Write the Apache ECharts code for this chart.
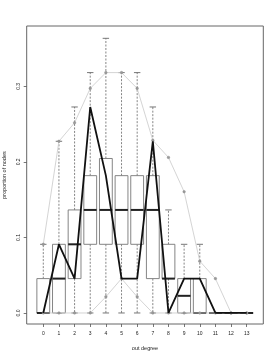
<!DOCTYPE html>
<html>
<head>
<meta charset="utf-8">
<script src="https://cdn.jsdelivr.net/npm/echarts@6/dist/echarts.min.js"></script>
<style>html,body{margin:0;padding:0;background:#fff}#c{width:277px;height:358px}</style>
</head>
<body>
<div id="c"></div>
<script>
// out degree categories
const degrees = [0, 1, 2, 3, 4, 5, 6, 7, 8, 9, 10, 11, 12, 13];
// boxplot statistics of simulated proportions
const boxLow  = [0, 0, 0, 0, 0, 0, 0, 0, 0, 0, 0, 0, 0, 0];
const boxQ1   = [0, 0, 0.0455, 0.0909, 0.0909, 0.0909, 0.0909, 0.0455, 0.0455, 0, 0, 0, 0, 0];
const boxMed  = [0, 0.0455, 0.0909, 0.1364, 0.1364, 0.1364, 0.1364, 0.1364, 0.0455, 0.0227, 0, 0, 0, 0];
const boxQ3   = [0.0455, 0.0909, 0.1364, 0.1818, 0.2045, 0.1818, 0.1818, 0.1818, 0.0909, 0.0455, 0.0455, 0, 0, 0];
const boxHigh = [0.0909, 0.2273, 0.2727, 0.3182, 0.3636, 0.3182, 0.3182, 0.2727, 0.1364, 0.0909, 0.0909, 0, 0, 0];
// grey quantile bands
const upperBand = [0.0909, 0.2273, 0.2518, 0.2973, 0.3182, 0.3182, 0.2973, 0.2286, 0.2059, 0.1605, 0.0686, 0.0455, 0, 0];
const lowerBand = [0, 0, 0, 0, 0.0214, 0.0455, 0.0214, 0, 0, 0, 0, 0, 0, 0];
// observed network
const observed = [0, 0.0909, 0.0455, 0.2727, 0.1818, 0.0455, 0.0455, 0.2273, 0, 0.0455, 0.0455, 0, 0, 0];
// tick labels
const xTicks = [0, 1, 2, 3, 4, 5, 6, 7, 8, 9, 10, 11, 12, 13];
const yTicks = [0, 0.1, 0.2, 0.3];
const yTickLabels = ['0.0', '0.1', '0.2', '0.3'];

const boxData = degrees.map((d, i) => [d, boxLow[i], boxQ1[i], boxMed[i], boxQ3[i], boxHigh[i]]);
const pair = arr => degrees.map((d, i) => [d, arr[i]]);

const chart = echarts.init(document.getElementById('c'), null, {renderer: 'canvas'});
const txt = '#222';
chart.setOption({
  animation: false,
  backgroundColor: '#fff',
  grid: {left: 26.7, top: 26, width: 236.6, height: 298, show: true, borderColor: '#666', borderWidth: 1,
    backgroundColor: 'transparent', containLabel: false, outerBoundsMode: 'none'},
  xAxis: {
    type: 'value', min: -1.06, max: 14.06, position: 'bottom',
    name: 'out degree', nameLocation: 'middle', nameGap: 21,
    nameTextStyle: {fontSize: 5.5, color: txt, fontFamily: 'Liberation Sans'},
    axisLine: {show: false, onZero: false},
    splitLine: {show: false},
    axisTick: {show: true, length: 3, customValues: xTicks, lineStyle: {color: '#555', width: 0.8}},
    axisLabel: {customValues: xTicks, fontSize: 5, color: txt, margin: 7, fontFamily: 'Liberation Sans'}
  },
  yAxis: {
    type: 'value', min: -0.0146, max: 0.3799, position: 'left',
    name: 'proportion of nodes', nameLocation: 'middle', nameGap: 16,
    nameTextStyle: {fontSize: 5.5, color: txt, fontFamily: 'Liberation Sans'},
    axisLine: {show: false, onZero: false},
    splitLine: {show: false},
    axisTick: {show: true, length: 3, customValues: yTicks, lineStyle: {color: '#555', width: 0.8}},
    axisLabel: {customValues: yTicks, rotate: 90, fontSize: 5, color: txt, margin: 6, fontFamily: 'Liberation Sans',
      formatter: v => { const k = yTicks.findIndex(t => Math.abs(t - v) < 1e-9); return k >= 0 ? yTickLabels[k] : ''; }}
  },
  series: [
    {
      type: 'custom',
      data: boxData,
      encode: {x: 0, y: [1, 2, 3, 4, 5]},
      z: 2,
      renderItem: function (params, api) {
        const d = api.value(0);
        const lo = api.coord([d, api.value(1)]);
        const q1 = api.coord([d, api.value(2)]);
        const md = api.coord([d, api.value(3)]);
        const q3 = api.coord([d, api.value(4)]);
        const hi = api.coord([d, api.value(5)]);
        const hw = api.size([0.41, 0])[0];
        const cw = hw * 0.5;
        const x = md[0];
        const wStyle = {stroke: '#777', lineWidth: 0.9, lineDash: [2, 1.5]};
        const cStyle = {stroke: '#666', lineWidth: 0.9};
        return {
          type: 'group',
          children: [
            {type: 'line', shape: {x1: x, y1: q3[1], x2: x, y2: hi[1]}, style: wStyle},
            {type: 'line', shape: {x1: x, y1: q1[1], x2: x, y2: lo[1]}, style: wStyle},
            {type: 'line', shape: {x1: x - cw, y1: hi[1], x2: x + cw, y2: hi[1]}, style: cStyle},
            {type: 'line', shape: {x1: x - cw, y1: lo[1], x2: x + cw, y2: lo[1]}, style: cStyle},
            {type: 'rect', shape: {x: x - hw, y: q3[1], width: 2 * hw, height: q1[1] - q3[1]}, style: {fill: '#fff', stroke: '#777', lineWidth: 0.9}},
            {type: 'line', shape: {x1: x - hw, y1: md[1], x2: x + hw, y2: md[1]}, style: {stroke: '#222', lineWidth: 2}}
          ]
        };
      }
    },
    {
      type: 'line', data: pair(upperBand), z: 3,
      lineStyle: {color: '#cfcfcf', width: 0.9},
      symbol: 'circle', symbolSize: 2.6, itemStyle: {color: '#999', borderColor: '#888', borderWidth: 0.4}
    },
    {
      type: 'line', data: pair(lowerBand), z: 3,
      lineStyle: {color: '#cfcfcf', width: 0.9},
      symbol: 'circle', symbolSize: 2.6, itemStyle: {color: '#999', borderColor: '#888', borderWidth: 0.4}
    },
    {
      type: 'line', data: pair(observed), z: 4,
      lineStyle: {color: '#111', width: 1.8},
      symbol: 'none'
    }
  ]
});
</script>
</body>
</html>
